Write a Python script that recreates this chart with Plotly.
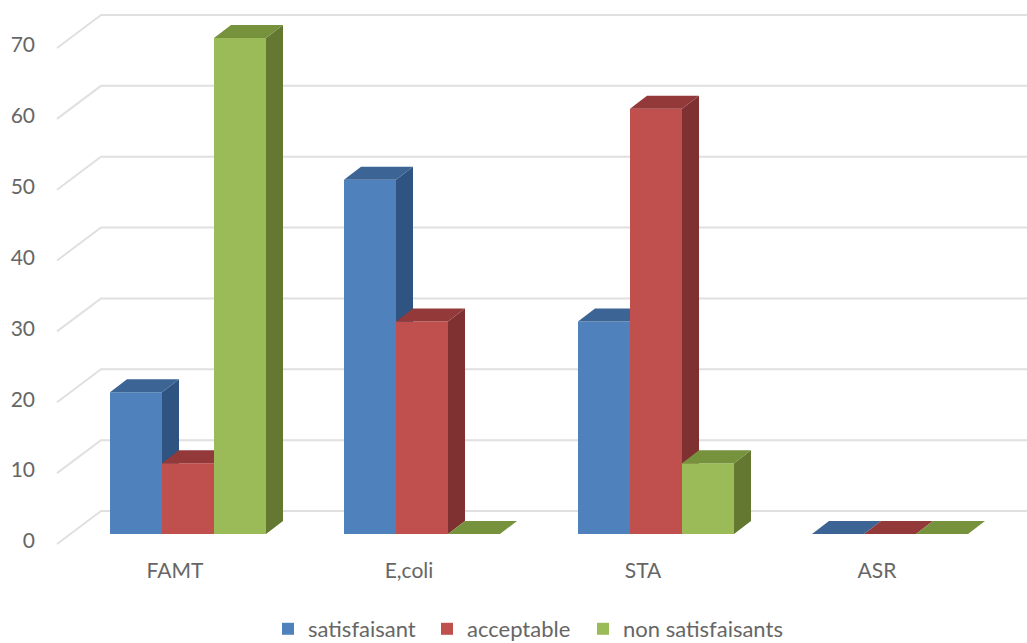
import plotly.graph_objects as go

# Chart data
categories = ["FAMT", "E,coli", "STA", "ASR"]
satisfaisant = [20, 50, 30, 0]
acceptable = [10, 30, 60, 0]
non_satisfaisants = [70, 0, 10, 0]
y_ticks = [0, 10, 20, 30, 40, 50, 60, 70]

series_names = ["satisfaisant", "acceptable", "non satisfaisants"]
series_values = [satisfaisant, acceptable, non_satisfaisants]
front_colors = ["#4f81bd", "#c0504d", "#9bbb59"]
top_colors = ["#3c6494", "#94393a", "#76923c"]
side_colors = ["#2f5482", "#7e3130", "#647831"]

# Axis scales: category spacing and pixels per value unit
WIDTH, HEIGHT = 1027, 643
M_L, M_B = 44, 93
X_UNIT = 234.0
Y_UNIT = 7.086
X0_PX, Y0_PX = 188.0, 534.0
X_RANGE = [(M_L - X0_PX) / X_UNIT, (WIDTH - X0_PX) / X_UNIT]
Y_RANGE = [(Y0_PX - (HEIGHT - M_B)) / Y_UNIT, Y0_PX / Y_UNIT]

# Oblique projection of the depth direction, in axis units
BAR_W = 2 / 9
BAR_DX = 17 / X_UNIT
BAR_DY = 13 / Y_UNIT
WALL_LEFT = (57 - X0_PX) / X_UNIT
WALL_BACK = (101 - X0_PX) / X_UNIT
WALL_FRONT_DY = -10 / Y_UNIT
WALL_BACK_DY = 23 / Y_UNIT

fig = go.Figure()

# Floor and back wall gridlines, folded at the back corner
for v in y_ticks:
    fig.add_trace(go.Scatter(
        x=[WALL_LEFT, WALL_BACK, X_RANGE[1]],
        y=[v + WALL_FRONT_DY, v + WALL_BACK_DY, v + WALL_BACK_DY],
        mode="lines", line=dict(color="#e0e0e0", width=2),
        hoverinfo="skip", showlegend=False,
    ))

# Each series sits on its own overlaid axes so later series cover earlier side faces
legend_ids = ["legend", "legend2", "legend3"]
for k, (name, values) in enumerate(zip(series_names, series_values)):
    xa, ya = f"x{k + 2}", f"y{k + 2}"
    offset = -1 / 3 + k * BAR_W
    fig.add_trace(go.Bar(
        x=list(range(len(categories))), y=values, name=name,
        width=BAR_W, offset=offset,
        marker=dict(color=front_colors[k], line=dict(width=0)),
        xaxis=xa, yaxis=ya, legend=legend_ids[k], showlegend=True,
    ))
    for i, v in enumerate(values):
        left = i + offset
        right = left + BAR_W
        fig.add_trace(go.Scatter(
            x=[right, right + BAR_DX, right + BAR_DX, right, right],
            y=[0, BAR_DY, v + BAR_DY, v, 0],
            mode="lines", fill="toself", fillcolor=side_colors[k],
            line=dict(width=0), hoverinfo="skip", showlegend=False,
            xaxis=xa, yaxis=ya,
        ))
        fig.add_trace(go.Scatter(
            x=[left, left + BAR_DX, right + BAR_DX, right, left],
            y=[v, v + BAR_DY, v + BAR_DY, v, v],
            mode="lines", fill="toself", fillcolor=top_colors[k],
            line=dict(width=0), hoverinfo="skip", showlegend=False,
            xaxis=xa, yaxis=ya,
        ))

FONT = dict(family="Lato", size=21, color="#666666")
LEGEND_FONT = dict(family="Lato", size=22, color="#666666")

layout = dict(
    width=WIDTH, height=HEIGHT,
    margin=dict(l=M_L, r=0, t=0, b=M_B, pad=0),
    paper_bgcolor="white", plot_bgcolor="white",
    font=FONT,
    xaxis=dict(
        range=X_RANGE, tickmode="array", automargin=False,
        tickvals=list(range(len(categories))), ticktext=categories,
        showgrid=False, zeroline=False, showline=False, ticks="",
        ticklabelshift=-13, ticklabelstandoff=6, tickfont=FONT,
    ),
    yaxis=dict(
        range=Y_RANGE, tickmode="array", tickvals=y_ticks, automargin=False,
        showgrid=False, zeroline=False, showline=False, ticks="",
        ticklabelshift=7, ticklabelstandoff=8, tickfont=FONT,
    ),
    showlegend=True,
)

# One legend per series so each entry keeps its own position on the bottom row
legend_x = [268, 427, 583]
for lid, lx in zip(legend_ids, legend_x):
    layout[lid] = dict(
        orientation="h", xref="container", yref="container",
        x=lx / WIDTH, xanchor="left",
        y=(HEIGHT - 608) / HEIGHT, yanchor="top",
        font=LEGEND_FONT, bgcolor="rgba(0,0,0,0)",
    )

for k in range(3):
    layout[f"xaxis{k + 2}"] = dict(range=X_RANGE, overlaying="x", visible=False)
    layout[f"yaxis{k + 2}"] = dict(range=Y_RANGE, overlaying="y", visible=False)

fig.update_layout(**layout)
fig.write_html("out.html", config=dict(displayModeBar=False))
